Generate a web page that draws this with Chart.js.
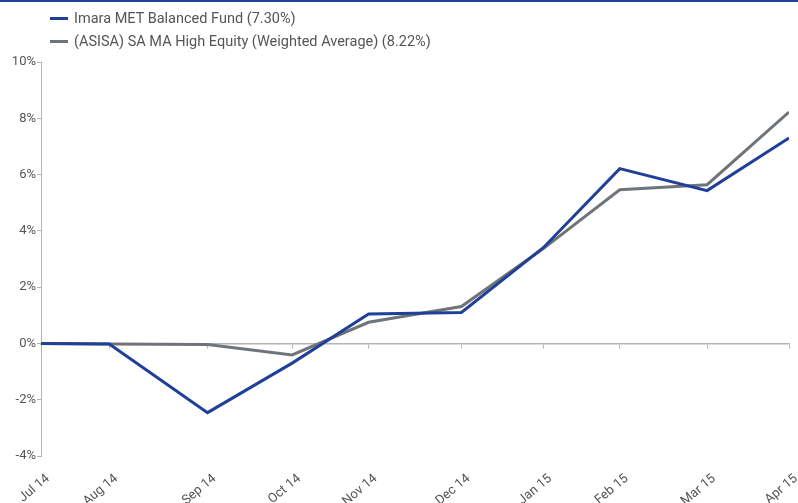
<!DOCTYPE html>
<html>
<head>
<meta charset="utf-8">
<script src="https://cdn.jsdelivr.net/npm/chart.js@4.4.1/dist/chart.umd.min.js"></script>
<style>
    html, body { margin: 0; padding: 0; background: #fff; }
    #wrap {
        position: relative;
        width: 798px;
        height: 503px;
        box-sizing: border-box;
        border-top: 2px solid #1f3f99;
        font-family: Roboto, "Noto Sans", sans-serif;
    }
    #legend {
        position: absolute;
        left: 50px;
        top: 5px;
        font-size: 14.5px;
        color: #555;
        line-height: 23px;
    }
    #legend .item { display: flex; align-items: center; white-space: nowrap; }
    #legend .swatch { width: 18px; height: 3px; margin-right: 6px; }
    #chartBox { position: absolute; left: 0; top: 0; width: 798px; height: 501px; }
</style>
</head>
<body>
<div id="wrap">
    <div id="chartBox"><canvas id="perfChart"></canvas></div>
    <div id="legend"></div>
</div>
<script>
// ============================
// Data
// ============================
const monthLabels = ["Jul 14", "Aug 14", "Sep 14", "Oct 14", "Nov 14", "Dec 14", "Jan 15", "Feb 15", "Mar 15", "Apr 15"];
// days since the first point (the source axis is spaced by date)
const dayOffsets = [0, 25, 61, 92, 120, 154, 184, 212, 244, 274];

const fundName = "Imara MET Balanced Fund (7.30%)";
const fundValues = [0, -0.02, -2.46, -0.7, 1.05, 1.1, 3.4, 6.21, 5.43, 7.3];

const benchName = "(ASISA) SA MA High Equity (Weighted Average) (8.22%)";
const benchValues = [0, -0.02, -0.04, -0.41, 0.75, 1.31, 3.37, 5.46, 5.64, 8.22];

const yTicks = [-4, -2, 0, 2, 4, 6, 8, 10];

const blue = "#203f98";
const grey = "#6f7479";
const textColor = "#555";
const axisColor = "#b4b4b4";

// ============================
// Helpers
// ============================
function toPoints(values) {
    return values.map((v, i) => ({ x: dayOffsets[i], y: v }));
}

function setDayTicks(scale) {
    scale.ticks = dayOffsets.map(d => ({ value: d }));
}

// ============================
// Legend (HTML, stacked)
// ============================
const legendEl = document.getElementById("legend");
[[fundName, blue], [benchName, grey]].forEach(([name, color]) => {
    const item = document.createElement("div");
    item.className = "item";
    const sw = document.createElement("span");
    sw.className = "swatch";
    sw.style.background = color;
    const txt = document.createElement("span");
    txt.textContent = name;
    item.appendChild(sw);
    item.appendChild(txt);
    legendEl.appendChild(item);
});

// ============================
// Chart
// ============================
const ctx = document.getElementById("perfChart").getContext("2d");
new Chart(ctx, {
    type: "line",
    data: {
        datasets: [
            {
                label: fundName,
                data: toPoints(fundValues),
                borderColor: blue,
                borderWidth: 3,
                pointRadius: 0,
                tension: 0,
                order: 0
            },
            {
                label: benchName,
                data: toPoints(benchValues),
                borderColor: grey,
                borderWidth: 3,
                pointRadius: 0,
                tension: 0,
                order: 1
            }
        ]
    },
    options: {
        responsive: true,
        maintainAspectRatio: false,
        animation: false,
        layout: { padding: { top: 60, right: 9, left: 4, bottom: 0 } },
        plugins: {
            legend: { display: false },
            tooltip: { enabled: false }
        },
        scales: {
            x: {
                type: "linear",
                min: dayOffsets[0],
                max: dayOffsets[dayOffsets.length - 1],
                afterBuildTicks: setDayTicks,
                afterFit: (scale) => {
                    scale.height = 47;
                    scale.paddingLeft = 0;
                    scale.paddingRight = 0;
                },
                grid: { display: false },
                border: { display: false },
                ticks: {
                    autoSkip: false,
                    minRotation: 40,
                    maxRotation: 40,
                    padding: 7,
                    labelOffset: 7,
                    color: textColor,
                    font: { family: "Roboto", size: 13 },
                    callback: (value) => monthLabels[dayOffsets.indexOf(value)]
                }
            },
            // tick marks along the zero line
            xZero: {
                type: "linear",
                axis: "x",
                position: { y: 0 },
                min: dayOffsets[0],
                max: dayOffsets[dayOffsets.length - 1],
                afterBuildTicks: setDayTicks,
                grid: { drawOnChartArea: false, drawTicks: true, tickLength: 4, color: axisColor },
                border: { display: true, color: axisColor, width: 1.5 },
                ticks: { display: false }
            },
            y: {
                min: -4,
                max: 10,
                afterBuildTicks: (scale) => { scale.ticks = yTicks.map(v => ({ value: v })); },
                afterFit: (scale) => { scale.width = 37; },
                grid: { drawOnChartArea: false, drawTicks: true, tickLength: 4, color: axisColor },
                border: { display: true, color: axisColor, width: 1 },
                ticks: {
                    padding: 1,
                    color: textColor,
                    font: { family: "Roboto", size: 13 },
                    callback: (v) => v + "%"
                }
            }
        }
    }
});
</script>
</body>
</html>
